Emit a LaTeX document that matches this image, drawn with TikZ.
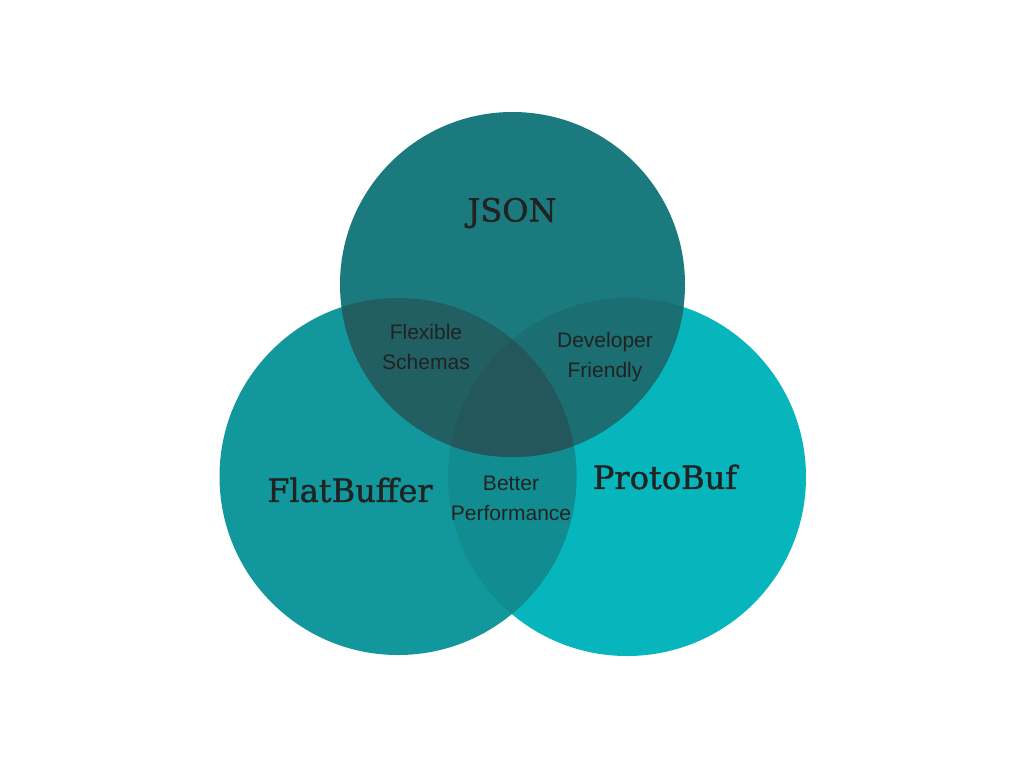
\documentclass[tikz,border=0pt]{standalone}
\usepackage{fontspec}
\setmainfont{Liberation Sans}
\newfontfamily\slab[FakeBold=1.2]{DejaVu Serif}
\definecolor{cJ}{HTML}{1A7A7E}
\definecolor{cF}{HTML}{12989C}
\definecolor{cP}{HTML}{06B6BC}
\definecolor{cFP}{HTML}{118C91}
\definecolor{cJF}{HTML}{215F63}
\definecolor{cJP}{HTML}{1B6E72}
\definecolor{cJFP}{HTML}{23575B}
\definecolor{txt}{HTML}{222222}
\tikzset{
  big/.style={font=\slab\fontsize{32}{36}\selectfont, text=txt, inner sep=0pt},
  small/.style={font=\fontsize{21}{30}\selectfont, text=txt, align=center, inner sep=0pt}
}
\begin{document}
\begin{tikzpicture}[x=1pt,y=-1pt]
\useasboundingbox[fill=white] (0,0) rectangle (1024,768);
\def\Jc{(512.5,284.5)}\def\Jr{172.5}
\def\Fc{(398,476.5)}\def\Fr{178.5}
\def\Pc{(627,477)}\def\Pr{179}
\fill[cP] \Pc circle (\Pr);
\fill[cF] \Fc circle (\Fr);
\fill[cJ] \Jc circle (\Jr);
\begin{scope}
  \clip \Fc circle (\Fr);
  \fill[cFP] \Pc circle (\Pr);
\end{scope}
\begin{scope}
  \clip \Jc circle (\Jr);
  \fill[cJF] \Fc circle (\Fr);
  \fill[cJP] \Pc circle (\Pr);
  \clip \Fc circle (\Fr);
  \fill[cJFP] \Pc circle (\Pr);
\end{scope}
\node[big] (json) at (512,213) {JSON};
\node[big] (flat) at (350,490) {FlatBuffer};
\node[big] (proto) at (665,477) {ProtoBuf};
\node[small] (flex) at (426,347) {Flexible\\Schemas};
\node[small] (dev) at (605,357) {Developer\\Friendly};
\node[small] (perf) at (511,498) {Better\\Performance};
\end{tikzpicture}
\end{document}
